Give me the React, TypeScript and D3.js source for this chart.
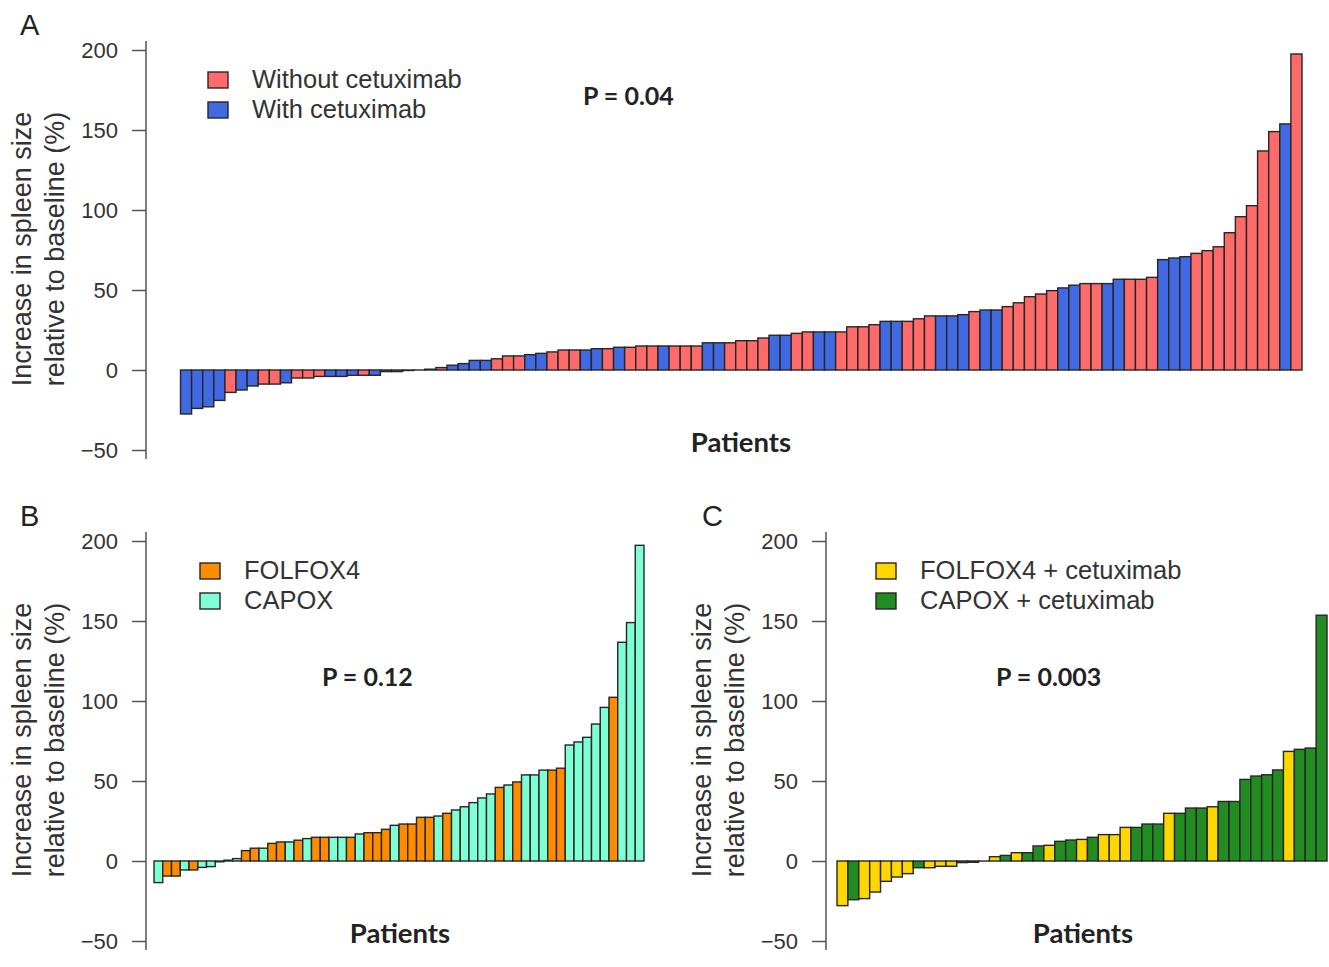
import React, { useRef, useEffect } from "react";
import * as d3 from "d3";

// panel A: all patients, sorted by change
const valuesA = [
  -27.5, -24, -23, -19, -14, -12.5, -10, -8.8, -8.8, -8, -5, -5, -4, -4, -4, -3.3, -3.3, -3.3,
  -1, -1, -0.3, 0, 0.5, 1.5,
  3, 4, 6, 6, 7, 8.8, 8.8, 9.6, 10.4,
  11.3, 12.5, 12.5, 12.5, 13.3, 13.3, 14.2, 14.2, 15, 15, 15, 15, 15, 15,
  17, 17, 17, 18.3, 18.3, 20, 21.7, 21.7, 22.9, 23.8, 23.8, 23.8, 23.8,
  27, 27, 28.3, 30.4, 30.4, 30.4, 32, 33.8, 33.8, 33.8,
  34.6, 36.5, 37.5, 37.5, 39.6, 42, 45.8, 47.5, 49.6,
  51.3, 53, 54, 54, 54, 56.7, 56.7, 56.7, 57.9,
  69, 70, 70.8, 72.9, 74.6, 77, 85.8, 95.8, 102.7, 136.9, 149, 153.8, 197.5,
];
// W = without cetuximab, C = with cetuximab
const groupsA = (
  "CCCCWCCWWCWWWCCCWC" + "CWCWCW" + "CCCCWWWCC" + "WWWCCWCWWWCWWW" +
  "CCWWWWCCWWCCW" + "WWWCCWWWCC" + "CWCCWWWWW" + "CCWWCCWWW" + "CCCWWWWWWWWCW"
).split("");

// panel B: without cetuximab
const valuesB = [
  -13.5, -9.4, -9.4, -5.6, -5.6, -4, -3.5, -0.5, 0.5, 1.5,
  6.5, 8, 8, 11, 11.9, 11.9, 13, 14, 14.8, 14.8, 14.8, 14.8, 14.8, 16.9, 17.7, 17.7, 19.8,
  22.3, 23.1, 23.1, 27.3, 27.3, 28.1, 29.8, 31.9, 33.9, 36.5, 39.4, 41.9,
  46, 47.5, 49.4, 53.8, 53.8, 56.8, 56.8, 58,
  72.5, 74.4, 77.3, 85.6, 96, 102.3, 136.7, 149, 197.3,
];
// F = FOLFOX4, X = CAPOX
const groupsB = ("XFFXFXXFXX" + "FFXFFXFXFFXXFXFFF" + "XFFFFXFXXXXX" + "FXFXXXFF" + "XXXXXFXXX").split("");

// panel C: with cetuximab
const valuesC = [
  -27.9, -24.2, -23.5, -19.4, -12.7, -10, -7.9, -4.2, -4.2, -3.3, -3.3, -1, -0.8, 0,
  2.7, 3.5, 5.2, 5.2, 9.4, 9.8, 12.3, 13.1, 13.5, 14.8, 16.5, 16.5, 21, 21, 23.1, 23.1,
  29.8, 29.8, 33.1, 33.1, 33.9, 37.2, 37.2, 51, 53.1, 53.9, 56.9, 68.5, 69.8, 70.6, 153.6,
];
// Y = FOLFOX4 + cetuximab, G = CAPOX + cetuximab
const groupsC = ("YGYYYYYGYYYGYG" + "YGYGGYGGYGYYYGGG" + "YGGGYGGGGGGYGGG").split("");

const yTicks = [-50, 0, 50, 100, 150, 200];

const legendA = [
  { key: "W", label: "Without cetuximab" },
  { key: "C", label: "With cetuximab" },
];
const legendB = [
  { key: "F", label: "FOLFOX4" },
  { key: "X", label: "CAPOX" },
];
const legendC = [
  { key: "Y", label: "FOLFOX4 + cetuximab" },
  { key: "G", label: "CAPOX + cetuximab" },
];

const colors: Record<string, string> = {
  W: "#ff6a6a",
  C: "#4169e1",
  F: "#ff8c00",
  X: "#7fffd4",
  Y: "#ffd700",
  G: "#228b22",
};

const sans = "'Liberation Sans', Arial, sans-serif";
const bold = "Lato, 'Open Sans', sans-serif";

function drawPanel(root: any, p: any) {
  const g = root.append("g");
  const y = d3.scaleLinear().domain([-50, 200]).range([p.bottom, p.top]);
  const x = d3
    .scaleBand<number>()
    .domain(d3.range(p.values.length))
    .range([p.x0, p.x1])
    .padding(0);

  // bars
  g.selectAll("rect.bar")
    .data(p.values)
    .join("rect")
    .attr("class", "bar")
    .attr("x", (_: number, i: number) => x(i))
    .attr("width", x.bandwidth())
    .attr("y", (d: number) => y(Math.max(0, d)))
    .attr("height", (d: number) => Math.max(0.01, Math.abs(y(d) - y(0))))
    .attr("fill", (_: number, i: number) => colors[p.groups[i]])
    .attr("stroke", "#262626")
    .attr("stroke-width", 1.4);

  // y axis
  const axis = d3
    .axisLeft(y)
    .tickValues(yTicks)
    .tickSize(14)
    .tickPadding(14)
    .tickFormat((d: any) => (d < 0 ? "\u2212" + Math.abs(d) : String(d)));
  const ax = g.append("g").attr("transform", `translate(${p.axisX},0)`).call(axis);
  ax.select(".domain").remove();
  ax.append("line")
    .attr("y1", y(200) - 9)
    .attr("y2", y(-50) + 9)
    .attr("stroke", "#555")
    .attr("stroke-width", 1.5);
  ax.selectAll(".tick line").attr("stroke", "#555").attr("stroke-width", 1.5);
  ax.selectAll(".tick text")
    .attr("fill", "#333")
    .style("font-family", sans)
    .style("font-size", "22px");

  // y label
  const cy = (y(200) + y(-50)) / 2;
  ["Increase in spleen size", "relative to baseline (%)"].forEach((t, i) => {
    g.append("text")
      .attr("transform", `translate(${p.axisX - 115 + i * 33},${cy - 1}) rotate(-90)`)
      .attr("text-anchor", "middle")
      .attr("fill", "#333")
      .style("font-family", sans)
      .style("font-size", "27px")
      .text(t);
  });

  // panel letter
  g.append("text")
    .attr("x", p.letterX)
    .attr("y", p.top - 15)
    .attr("fill", "#222")
    .style("font-family", sans)
    .style("font-size", "29px")
    .text(p.letter);

  // legend
  p.legend.forEach((l: any, i: number) => {
    const ly = p.legendY + i * 30;
    g.append("rect")
      .attr("x", p.legendX)
      .attr("y", ly - 16)
      .attr("width", 20)
      .attr("height", 16)
      .attr("fill", colors[l.key])
      .attr("stroke", "#262626")
      .attr("stroke-width", 1.4);
    g.append("text")
      .attr("x", p.legendX + 44)
      .attr("y", ly)
      .attr("fill", "#333")
      .style("font-family", sans)
      .style("font-size", "25.5px")
      .text(l.label);
  });

  // p-value
  g.append("text")
    .attr("x", p.pX)
    .attr("y", p.pY)
    .attr("fill", "#222")
    .style("font-family", bold)
    .style("font-weight", 700)
    .style("font-size", "25px")
    .text(p.pText);

  // x label
  g.append("text")
    .attr("x", p.xLabelX)
    .attr("y", p.bottom + 2)
    .attr("text-anchor", "middle")
    .attr("fill", "#222")
    .style("font-family", bold)
    .style("font-weight", 700)
    .style("font-size", "27.5px")
    .text("Patients");
}

const App = () => {
  const ref = useRef<SVGSVGElement | null>(null);

  useEffect(() => {
    const svg = d3.select(ref.current);
    svg.selectAll("*").remove();

    const panels = [
      {
        letter: "A", letterX: 20, values: valuesA, groups: groupsA, legend: legendA,
        axisX: 146, x0: 180.5, x1: 1302, top: 50, bottom: 450,
        legendX: 208, legendY: 88, pText: "P = 0.04", pX: 583, pY: 105, xLabelX: 741,
      },
      {
        letter: "B", letterX: 20, values: valuesB, groups: groupsB, legend: legendB,
        axisX: 146, x0: 154, x1: 644, top: 541, bottom: 941,
        legendX: 200, legendY: 579, pText: "P = 0.12", pX: 322, pY: 686, xLabelX: 400,
      },
      {
        letter: "C", letterX: 702, values: valuesC, groups: groupsC, legend: legendC,
        axisX: 826, x0: 837, x1: 1327, top: 541, bottom: 941,
        legendX: 876, legendY: 579, pText: "P = 0.003", pX: 996, pY: 686, xLabelX: 1083,
      },
    ];
    panels.forEach((p) => drawPanel(svg, p));

    return () => {
      svg.selectAll("*").remove();
    };
  }, []);

  return (
    <div>
      <style>{`body{margin:0;background:#fff}`}</style>
      <svg ref={ref} width={1329} height={967} style={{ display: "block" }} />
    </div>
  );
};

export default App;
